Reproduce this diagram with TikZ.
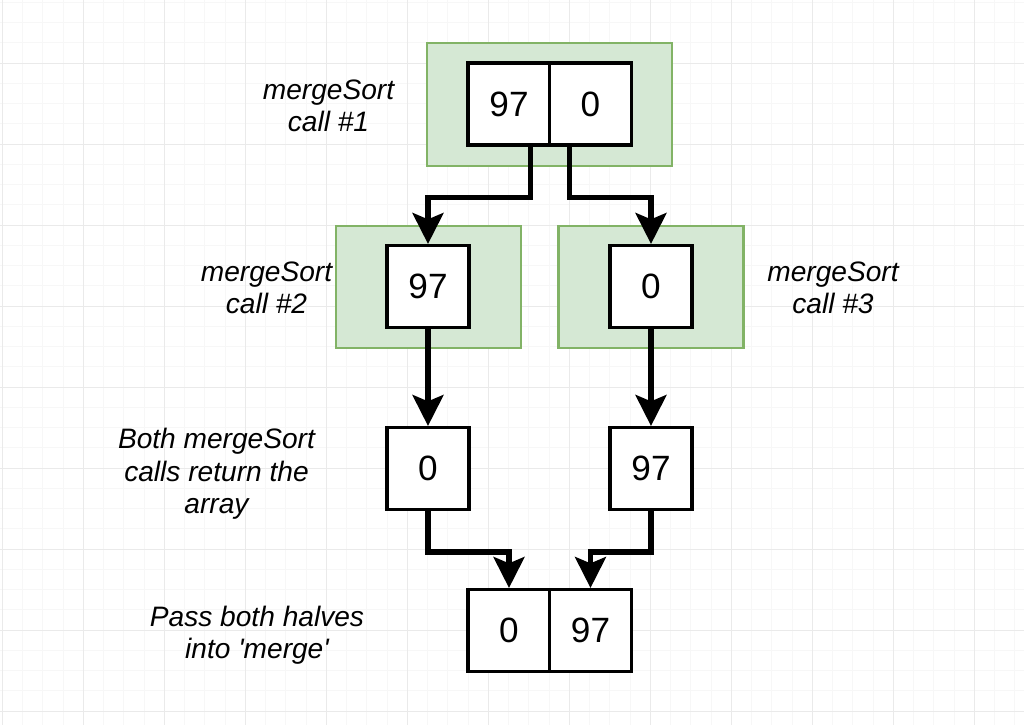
\documentclass[tikz,border=0pt]{standalone}
\usepackage{fontspec}
\setmainfont{Liberation Sans}
\usetikzlibrary{arrows.meta,calc}
\definecolor{callfill}{HTML}{D5E8D4}
\definecolor{callborder}{HTML}{82B366}
\definecolor{gridminor}{HTML}{F7F7F7}
\definecolor{gridmajor}{HTML}{EAEAEA}
\tikzset{
  cell/.style={draw, line width=2.5pt, fill=white, minimum width=20.4mm,
    minimum height=20.4mm, inner sep=0pt, font=\fontsize{25}{30}\selectfont},
  callbox/.style={draw=callborder, fill=callfill, line width=2pt, inner sep=0pt},
  conn/.style={line width=3.7pt, -{Stealth[length=22pt,width=22pt,inset=4.5pt]}},
  note/.style={align=center, inner sep=0pt, font=\fontsize{20}{23}\selectfont\itshape}
}
\begin{document}
\begin{tikzpicture}[x=0.25mm, y=-0.25mm]
      \useasboundingbox (0,0) rectangle (1024,725);
      \fill[white] (0,0) rectangle (1024,725);
      \foreach \k in {0,...,50}
        \draw[gridminor, line width=0.6pt] (2.25+20.25*\k,0) -- (2.25+20.25*\k,725);
      \foreach \k in {0,...,35}
        \draw[gridminor, line width=0.6pt] (0,2.25+20.25*\k) -- (1024,2.25+20.25*\k);
      \foreach \k in {0,...,12}
        \draw[gridmajor, line width=0.7pt] (2.25+81*\k,0) -- (2.25+81*\k,725);
      \foreach \k in {0,...,8}
        \draw[gridmajor, line width=0.7pt] (0,63+81*\k) -- (1024,63+81*\k);
      \node[callbox, minimum width=61.25mm, minimum height=30.75mm] (g1) at (549.5,104.5) {};
      \node[callbox, minimum width=46.25mm, minimum height=30.5mm] (g2) at (428.5,287) {};
      \node[callbox, minimum width=46.25mm, minimum height=30.5mm] (g3) at (651,287) {};
      \node[cell] (a1) at (509,104) {97};
      \node[cell] (a2) at (590.5,104) {0};
      \node[cell] (b1) at (428,286.5) {97};
      \node[cell] (b2) at (651,286.5) {0};
      \node[cell] (c1) at (428,468.5) {0};
      \node[cell] (c2) at (651,468.5) {97};
      \node[cell] (d1) at (509,630.5) {0};
      \node[cell] (d2) at (590.5,630.5) {97};
      \node[note] (l1) at (328.5,106) {mergeSort\\call \#1};
      \node[note] (l2) at (266.5,287.5) {mergeSort\\call \#2};
      \node[note] (l3) at (833,287.5) {mergeSort\\call \#3};
      \node[note] (l4) at (216.5,474) {Both mergeSort\\calls return the\\array};
      \node[note] (l5) at (257,635.5) {Pass both halves\\into \textquotesingle merge\textquotesingle};
      \draw[conn] ($(a1.south)!0.5!(a1.south east)$) -- ++(0,51) -| (b1.north);
      \draw[conn] ($(a2.south)!0.5!(a2.south west)$) -- ++(0,51) -| (b2.north);
      \draw[conn] (b1) -- (c1);
      \draw[conn] (b2) -- (c2);
      \draw[conn] (c1.south) -- ++(0,41) -| (d1.north);
      \draw[conn] (c2.south) -- ++(0,41) -| (d2.north);
    \end{tikzpicture}
\end{document}
